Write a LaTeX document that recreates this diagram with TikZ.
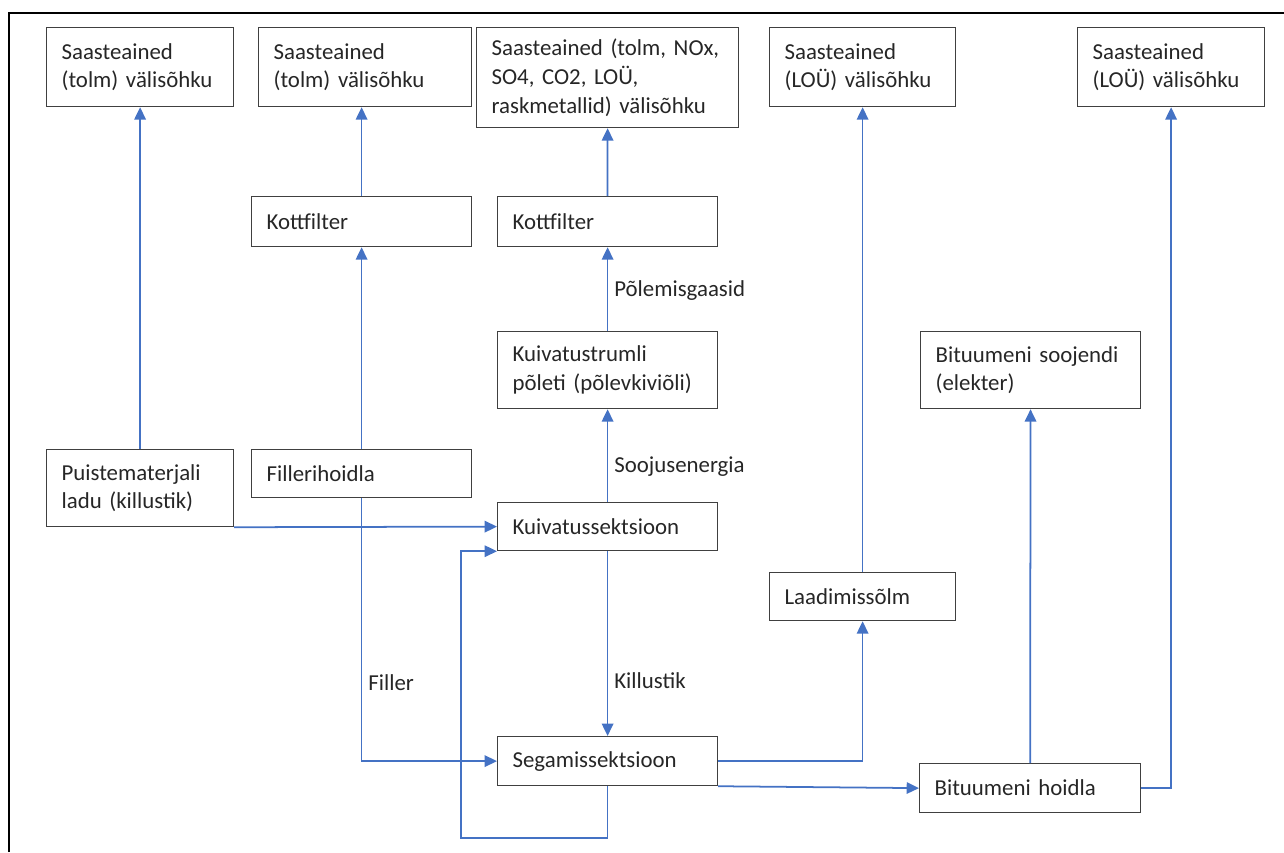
\documentclass[tikz,border=0pt]{standalone}
\usepackage{fontspec}
\setmainfont{Carlito}
\usetikzlibrary{arrows.meta}
\definecolor{flowblue}{HTML}{4472C4}
\begin{document}
\begin{tikzpicture}[x=0.02cm,y=-0.02cm,
  box/.style={draw=black!75,line width=0.7pt,anchor=north west,align=left,
    inner xsep=0.3cm,inner ysep=0pt,text width=#1,text=black!85,
    font=\fontsize{13}{16.4}\selectfont},
  flow/.style={draw=flowblue,line width=1pt,-{Triangle[length=7pt,width=6.5pt]}},
  lbl/.style={right,text=black!85,font=\fontsize{13}{16.4}\selectfont}]
  \useasboundingbox (0,0) rectangle (1284,852);
  \draw[line width=1.2pt] (9,852) -- (9,13) -- (1284,13);

  \node[box=3.14cm,minimum height=1.58cm] (tolm1) at (46,27) {Saasteained\\(tolm) välisõhku};
  \node[box=3.66cm,minimum height=1.58cm] (tolm2) at (258,27) {Saasteained\\(tolm) välisõhku};
  \node[box=4.64cm,minimum height=2cm] (koik) at (476,27) {Saasteained (tolm, NOx,\\SO4, CO2, LOÜ,\\raskmetallid) välisõhku};
  \node[box=3.12cm,minimum height=1.58cm] (lou1) at (769,27) {Saasteained\\(LOÜ) välisõhku};
  \node[box=3.14cm,minimum height=1.58cm] (lou2) at (1077,27) {Saasteained\\(LOÜ) välisõhku};
  \node[box=3.8cm,minimum height=1cm] (kott1) at (251,196) {Kottfilter};
  \node[box=3.8cm,minimum height=1cm] (kott2) at (497,196) {Kottfilter};
  \node[box=3.8cm,minimum height=1.54cm] (poleti) at (497,331) {Kuivatustrumli\\põleti (põlevkiviõli)};
  \node[box=3.8cm,minimum height=1.54cm] (soojendi) at (920,331) {Bituumeni soojendi\\(elekter)};
  \node[box=3.14cm,minimum height=1.54cm] (ladu) at (46,449) {Puistematerjali\\ladu (killustik)};
  \node[box=3.8cm,minimum height=0.96cm] (filler) at (251,449) {Fillerihoidla};
  \node[box=3.8cm,minimum height=0.96cm] (kuiv) at (497,502) {Kuivatussektsioon};
  \node[box=3.12cm,minimum height=0.96cm] (laad) at (769,572) {Laadimissõlm};
  \node[box=3.8cm,minimum height=0.98cm] (seg) at (497,736) {Segamissektsioon};
  \node[box=3.82cm,minimum height=0.98cm] (bit) at (919,763) {Bituumeni hoidla};

  \coordinate (tagasi) at (461,838);

  \draw[flow] (ladu) -- (tolm1);
  \draw[flow] (kott1.north) -- (kott1.north |- tolm2.south);
  \draw[flow] (filler) -- (kott1);
  \draw[flow] (kott2) -- (koik);
  \draw[flow] (poleti) -- node[lbl,pos=0.48] {Põlemisgaasid} (kott2);
  \draw[flow] (kuiv) -- node[lbl,pos=0.38] {Soojusenergia} (poleti);
  \draw[flow] (kuiv) -- node[lbl,pos=0.7] {Killustik} (seg);
  \draw[flow] (ladu.south east) -- (kuiv.west);
  \draw[flow] (laad) -- (lou1);
  \draw[flow] (seg.south east) -- (bit.west);
  \draw[flow] (bit) -- (soojendi);

  \draw[flow] (filler.south) |- node[lbl,pos=0.35] {Filler} (seg.west);
  \draw[flow] (seg.south) |- (tagasi) |- (kuiv.south west);
  \draw[flow] (seg.east) -| (laad.south);
  \draw[flow] (bit.east) -| (lou2.south);
\end{tikzpicture}
\end{document}
